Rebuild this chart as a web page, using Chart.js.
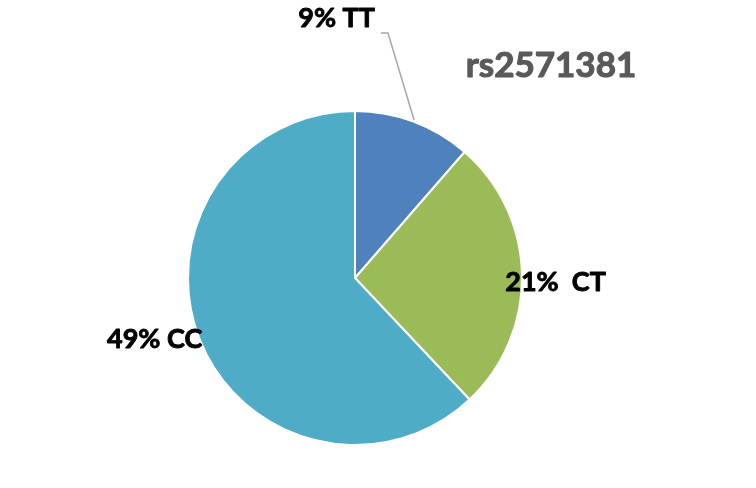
<!DOCTYPE html>
<html>
<head>
<meta charset="utf-8">
<script src="https://cdn.jsdelivr.net/npm/chart.js@4"></script>
<style>
  html, body { margin: 0; padding: 0; background: #fff; }
  #wrap { width: 756px; height: 488px; }
</style>
</head>
<body>
<div id="wrap"><canvas id="pie"></canvas></div>
<script>
const genotypes = ['TT', 'CT', 'CC'];
const counts = [9, 21, 49];
const pctLabels = ['9% TT', '21%  CT', '49% CC'];
const sliceColors = ['#4F81BD', '#9BBB59', '#4FACC6'];
const title = 'rs2571381';

// where each label sits, relative to its slice
const labelPos = [
  { k: 1.48, rot: -0.224, align: 'right', dx: -13, dy: -15, leader: true },
  { k: 0.90, rot: 0, align: 'left', dx: 0, dy: 7 },
  { k: 0.99, rot: 0, align: 'right', dx: 1, dy: 0 }
];

function heavyText(ctx, txt, x, y, color, w) {
  ctx.fillStyle = color;
  ctx.strokeStyle = color;
  ctx.lineWidth = w;
  ctx.lineJoin = 'round';
  ctx.strokeText(txt, x, y);
  ctx.fillText(txt, x, y);
}

const labelPlugin = {
  id: 'pieLabels',
  afterDatasetsDraw(chart) {
    const ctx = chart.ctx;
    const arcs = chart.getDatasetMeta(0).data;
    ctx.save();
    ctx.font = 'bold 27px Lato';
    ctx.textBaseline = 'middle';
    arcs.forEach((arc, i) => {
      const p = labelPos[i];
      const mid = (arc.startAngle + arc.endAngle) / 2;
      const r = arc.outerRadius;
      const ang = mid + p.rot;
      const ax = arc.x + Math.cos(ang) * r * p.k;
      const ay = arc.y + Math.sin(ang) * r * p.k;
      if (p.leader) {
        const sx = arc.x + Math.cos(mid) * r * 1.01;
        const sy = arc.y + Math.sin(mid) * r * 1.01;
        ctx.strokeStyle = '#A6A6A6';
        ctx.lineWidth = 1.5;
        ctx.beginPath();
        ctx.moveTo(sx, sy);
        ctx.lineTo(ax, ay);
        ctx.lineTo(ax - 7, ay);
        ctx.stroke();
      }
      ctx.textAlign = p.align;
      heavyText(ctx, pctLabels[i], ax + p.dx, ay + p.dy, '#000', 0.9);
    });
    ctx.restore();
  }
};

new Chart(document.getElementById('pie'), {
  type: 'pie',
  data: {
    labels: genotypes,
    datasets: [{
      data: counts,
      backgroundColor: sliceColors,
      borderColor: '#fff',
      borderWidth: 2,
      hoverOffset: 0
    }]
  },
  options: {
    responsive: true,
    maintainAspectRatio: false,
    animation: false,
    events: [],
    layout: { padding: { top: 110, bottom: 42, left: 187, right: 233 } },
    plugins: {
      legend: { display: false },
      tooltip: { enabled: false },
      title: { display: false }
    }
  },
  plugins: [labelPlugin, {
    id: 'sideTitle',
    afterDraw(chart) {
      const ctx = chart.ctx;
      ctx.save();
      ctx.font = 'bold 35px Lato';
      ctx.textAlign = 'center';
      ctx.textBaseline = 'middle';
      heavyText(ctx, title, 551, 66, '#595959', 1.1);
      ctx.restore();
    }
  }]
});
</script>
</body>
</html>
